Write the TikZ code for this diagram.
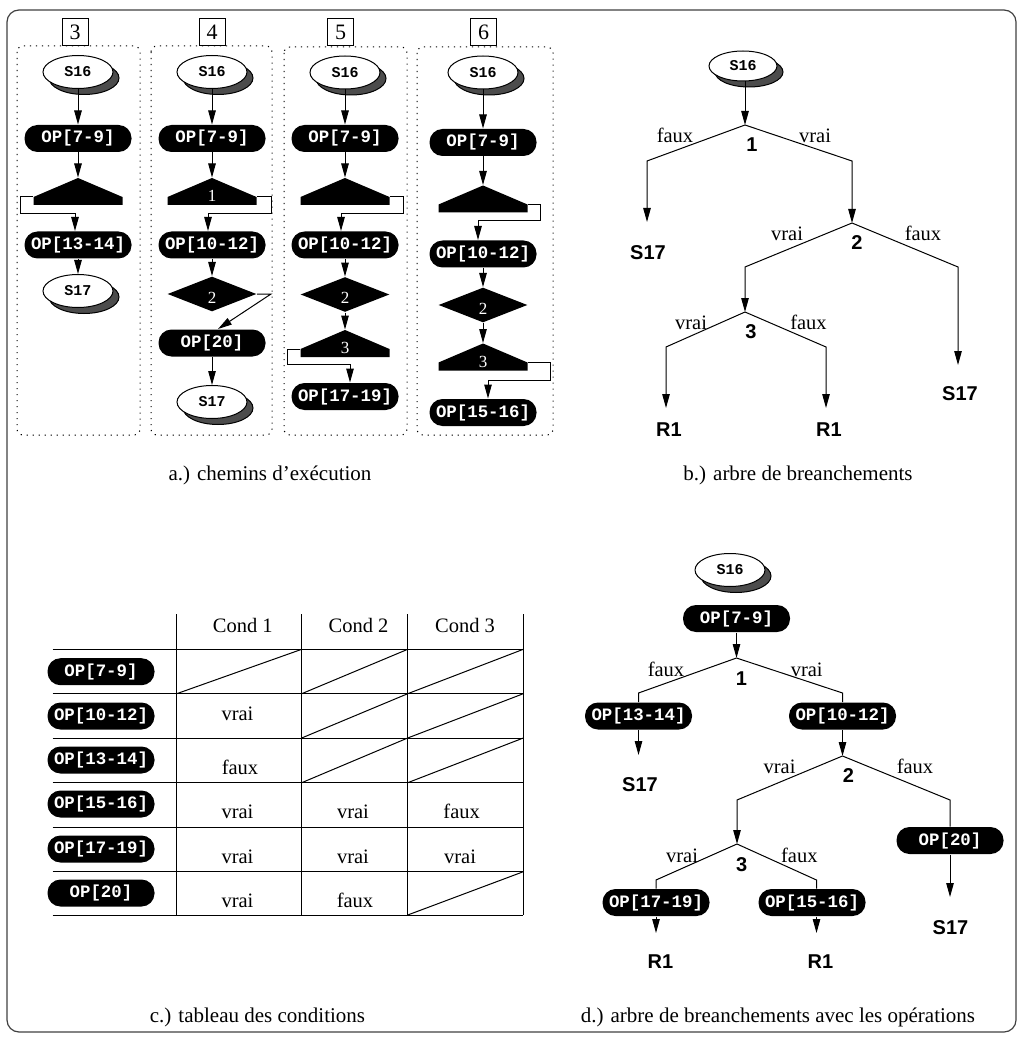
\documentclass[tikz,border=0pt]{standalone}
\usepackage{fontspec}
\setmainfont{Liberation Serif}
\setsansfont{Liberation Sans}
\setmonofont{Liberation Mono}
\usetikzlibrary{shapes.geometric, shadows, arrows.meta}

\begin{document}
\begin{tikzpicture}[x=1pt, y=-1pt, line width=1pt, >={Triangle[length=14pt,width=7.5pt]},
    etat/.style={ellipse, draw, fill=white, minimum width=70pt, minimum height=33pt, inner sep=0pt,
      font=\fontsize{15}{15}\ttfamily\bfseries,
      general shadow={shadow xshift=6pt, shadow yshift=-6pt, fill=black!70, draw=black}},
    op/.style={rectangle, rounded corners=13pt, fill=black, text=white, minimum width=107pt,
      minimum height=27pt, inner sep=0pt, font=\fontsize{17.4}{17.4}\ttfamily\bfseries},
    cond/.style={rectangle, fill=white, minimum width=89pt, minimum height=27pt, inner sep=0pt,
      text=white, text height=20pt, text depth=0pt, font=\fontsize{17}{17}\selectfont,
      path picture={\fill[black] (path picture bounding box.north)
        -- ([yshift=-19pt]path picture bounding box.north east) -- (path picture bounding box.south east)
        -- (path picture bounding box.south west) -- ([yshift=-19pt]path picture bounding box.north west) -- cycle;}},
    losange/.style={diamond, fill=black, text=white, aspect=2.5, minimum width=89pt, minimum height=35pt,
      inner sep=0pt, text height=18pt, text depth=0pt, font=\fontsize{17}{17}\selectfont},
    numero/.style={rectangle, draw, fill=white, minimum width=26pt, minimum height=27pt, inner sep=0pt,
      font=\fontsize{22}{22}\selectfont},
    colonne/.style={draw, dash pattern=on 1.2pt off 4.8pt, rounded corners=6pt},
    lab/.style={anchor=base, inner sep=0pt, font=\fontsize{20.5}{20.5}\selectfont},
    feuille/.style={anchor=base, inner sep=0pt, font=\fontsize{20}{20}\sffamily\bfseries},
    titre/.style={font=\fontsize{21}{21}\selectfont}]

    \useasboundingbox (0,0) rectangle (1024,1040);
    \draw[black!75, line width=1.2pt, rounded corners=12pt] (7,10) rectangle (1016,1032);

    % a.) chemins d'execution
    \draw[colonne] (17,46) rectangle (140,435);
    \draw[colonne] (151,46) rectangle (272,435);
    \draw[colonne] (284,47) rectangle (407,435);
    \draw[colonne] (417,47) rectangle (553,435);
    \node [numero] (n3) at (75 , 32) {3};
    \node [numero] (n4) at (212 , 32) {4};
    \node [numero] (n5) at (340.5 , 32) {5};
    \node [numero] (n6) at (483.5 , 32) {6};

    \node [etat] (s16a3) at (78 , 72) {S16};
    \node [op] (op79a3) at (78 , 138.5) {OP[7-9]};
    \node [cond] (c1a3) at (78 , 191.5) {};
    \node [op] (op1314a3) at (78 , 245) {OP[13-14]};
    \node [etat] (s17a3) at (78 , 291) {S17};

    \node [etat] (s16a4) at (212 , 72) {S16};
    \node [op] (op79a4) at (212 , 138.5) {OP[7-9]};
    \node [cond] (c1a4) at (212 , 191.5) {1};
    \node [op] (op1012a4) at (212 , 245) {OP[10-12]};
    \node [losange] (c2a4) at (212 , 294) {2};
    \node [op] (op20a4) at (212 , 343) {OP[20]};
    \node [etat] (s17a4) at (212 , 402) {S17};

    \node [etat] (s16a5) at (345 , 72.5) {S16};
    \node [op] (op79a5) at (345 , 138.5) {OP[7-9]};
    \node [cond] (c1a5) at (345 , 191.5) {};
    \node [op] (op1012a5) at (345 , 245) {OP[10-12]};
    \node [losange] (c2a5) at (345 , 294.5) {2};
    \node [cond] (c3a5) at (345 , 343.5) {3};
    \node [op] (op1719a5) at (345 , 396.5) {OP[17-19]};

    \node [etat] (s16a6) at (483 , 72.5) {S16};
    \node [op] (op79a6) at (483 , 142.5) {OP[7-9]};
    \node [cond] (c1a6) at (483 , 199) {};
    \node [op] (op1012a6) at (483 , 254) {OP[10-12]};
    \node [losange] (c2a6) at (483 , 305) {2};
    \node [cond] (c3a6) at (483 , 357) {3};
    \node [op] (op1516a6) at (483 , 412.5) {OP[15-16]};

    \path[->]
      (s16a3) edge (op79a3)
      (op79a3) edge (c1a3)
      (op1314a3) edge (s17a3)
      (s16a4) edge (op79a4)
      (op79a4) edge (c1a4)
      (op1012a4) edge (c2a4)
      (op20a4) edge (s17a4)
      (s16a5) edge (op79a5)
      (op79a5) edge (c1a5)
      (op1012a5) edge (c2a5)
      (c2a5) edge (c3a5)
      (s16a6) edge (op79a6)
      (op79a6) edge (c1a6)
      (op1012a6) edge (c2a6)
      (c2a6) edge (c3a6);
    \draw[->] ([yshift=-5.5pt]c1a3.west) -- ++(-13,0) -- ++(0,17) -| ([xshift=-3pt]op1314a3.north);
    \draw[->] ([yshift=-5.5pt]c1a4.east) -- ++(14,0) -- ++(0,17) -| ([xshift=-4pt]op1012a4.north);
    \draw[->] (c2a4.east) -- ++(14,0) -- ([xshift=6pt]op20a4.north);
    \draw[->] ([yshift=-5.5pt]c1a5.east) -- ++(13,0) -- ++(0,17) -| ([xshift=-4pt]op1012a5.north);
    \draw[->] ([yshift=-5.5pt]c3a5.west) -- ++(-13,0) -- ++(0,15) -| ([xshift=5pt]op1719a5.north);
    \draw[->] ([yshift=-5.5pt]c1a6.east) -- ++(12,0) -- ++(0,16) -| ([xshift=-5pt]op1012a6.north);
    \draw[->] ([yshift=-5.5pt]c3a6.east) -- ++(22,0) -- ++(0,17.5) -| ([xshift=5pt]op1516a6.north);

    \node [titre] (capa) at (270 , 475) {a.) chemins d’exécution};

    % b.) arbre de branchements
    \node [etat, minimum width=68pt, minimum height=30pt] (s16b) at (743 , 66) {S16};
    \coordinate (j1b) at (745 , 125);
    \coordinate (g1b) at (647 , 161);
    \coordinate (d1b) at (852 , 161);
    \coordinate (t1b) at (647 , 222);
    \coordinate (j2b) at (852 , 223);
    \coordinate (g2b) at (745 , 267);
    \coordinate (d2b) at (958 , 267);
    \coordinate (t2b) at (958 , 365);
    \coordinate (j3b) at (745 , 312);
    \coordinate (g3b) at (666 , 347);
    \coordinate (d3b) at (826 , 347);
    \coordinate (t3b) at (666 , 408);
    \coordinate (t4b) at (826 , 408);
    \draw[->] (s16b.south -| j1b) -- (j1b);
    \draw[->] (j1b) -- (g1b) -- (t1b);
    \draw[->] (j1b) -- (d1b) -- (j2b);
    \draw[->] (j2b) -- (g2b) -- (j3b);
    \draw[->] (j2b) -- (d2b) -- (t2b);
    \draw[->] (j3b) -- (g3b) -- (t3b);
    \draw[->] (j3b) -- (d3b) -- (t4b);
    \node [lab] (f1b) at (675 , 143) {faux};
    \node [feuille] (k1b) at (752 , 151.7) {1};
    \node [lab] (v1b) at (815 , 143) {vrai};
    \node [lab] (v2b) at (787 , 240.7) {vrai};
    \node [feuille] (k2b) at (857 , 250) {2};
    \node [lab] (f2b) at (923 , 240.7) {faux};
    \node [lab] (v3b) at (691 , 329) {vrai};
    \node [feuille] (k3b) at (751 , 338) {3};
    \node [lab] (f3b) at (808.5 , 329) {faux};
    \node [feuille] (s17gb) at (648 , 260) {S17};
    \node [feuille] (s17db) at (960 , 400.7) {S17};
    \node [feuille] (r1gb) at (669 , 436.7) {R1};
    \node [feuille] (r1db) at (829 , 436.7) {R1};

    \node [titre] (capb) at (798 , 475) {b.) arbre de breanchements};

    % c.) tableau des conditions
    \foreach \y in {649.3, 693.7, 738, 782.7, 827, 871.7, 915}
      \draw (52.7,\y) -- (523.3,\y);
    \foreach \x in {176.7, 301.7, 407.7, 523.3}
      \draw (\x,614) -- (\x,915);
    \foreach \xa/\xb/\ya/\yb in {176.7/301.7/649.3/693.7, 301.7/407.7/649.3/693.7, 407.7/523.3/649.3/693.7,
        301.7/407.7/693.7/738, 407.7/523.3/693.7/738, 301.7/407.7/738/782.7, 407.7/523.3/738/782.7,
        407.7/523.3/871.7/915}
      \draw (\xa,\yb) -- (\xb,\ya);
    \node [lab] (h1) at (242.8 , 632.7) {Cond 1};
    \node [lab] (h2) at (358.5 , 632.7) {Cond 2};
    \node [lab] (h3) at (465 , 632.7) {Cond 3};
    \node [op] (l1) at (101 , 671.7) {OP[7-9]};
    \node [op] (l2) at (101 , 716) {OP[10-12]};
    \node [op] (l3) at (101 , 760) {OP[13-14]};
    \node [op] (l4) at (101 , 804) {OP[15-16]};
    \node [op] (l5) at (101 , 849) {OP[17-19]};
    \node [op] (l6) at (101 , 893) {OP[20]};
    \node [lab] (e21) at (237.5 , 720) {vrai};
    \node [lab] (e31) at (240 , 774) {faux};
    \node [lab] (e41) at (237.5 , 818) {vrai};
    \node [lab] (e42) at (353 , 818) {vrai};
    \node [lab] (e43) at (461.7 , 818) {faux};
    \node [lab] (e51) at (237.5 , 863) {vrai};
    \node [lab] (e52) at (353 , 863) {vrai};
    \node [lab] (e53) at (460 , 863) {vrai};
    \node [lab] (e61) at (237.5 , 907) {vrai};
    \node [lab] (e62) at (355 , 907) {faux};

    \node [titre] (capc) at (257.5 , 1017) {c.) tableau des conditions};

    % d.) arbre avec les operations
    \node [etat] (s16d) at (730 , 570) {S16};
    \node [op] (op79d) at (736.5 , 618.5) {OP[7-9]};
    \coordinate (j1d) at (736.5 , 658);
    \coordinate (g1d) at (638.5 , 693);
    \coordinate (d1d) at (842.5 , 693);
    \node [op] (op1314d) at (638.5 , 716) {OP[13-14]};
    \node [op] (op1012d) at (842.5 , 716) {OP[10-12]};
    \coordinate (t1d) at (638.5 , 755);
    \coordinate (j2d) at (842.5 , 756);
    \coordinate (g2d) at (737 , 800);
    \coordinate (d2d) at (950 , 800);
    \coordinate (j3d) at (737 , 844);
    \node [op] (op20d) at (950 , 840.5) {OP[20]};
    \coordinate (t2d) at (950 , 897);
    \coordinate (g3d) at (656 , 880);
    \coordinate (d3d) at (816.5 , 880);
    \node [op] (op1719d) at (656 , 902.5) {OP[17-19]};
    \node [op] (op1516d) at (812 , 902.5) {OP[15-16]};
    \coordinate (t3d) at (656 , 933);
    \coordinate (t4d) at (816.5 , 933);
    \draw[->] (op79d) -- (j1d);
    \draw (j1d) -- (g1d) -- (op1314d);
    \draw (j1d) -- (d1d) -- (op1012d);
    \draw[->] (op1314d) -- (t1d);
    \draw[->] (op1012d) -- (j2d);
    \draw[->] (j2d) -- (g2d) -- (j3d);
    \draw (j2d) -- (d2d) -- (op20d);
    \draw[->] (op20d) -- (t2d);
    \draw (j3d) -- (g3d) -- (op1719d);
    \draw (j3d) -- (d3d) -- (d3d |- op1516d.north);
    \draw[->] (op1719d) -- (t3d);
    \draw[->] (d3d |- op1516d.south) -- (t4d);
    \node [lab] (f1d) at (666 , 676) {faux};
    \node [feuille] (k1d) at (741.5 , 685) {1};
    \node [lab] (v1d) at (806.7 , 676) {vrai};
    \node [lab] (v2d) at (779.5 , 773) {vrai};
    \node [feuille] (k2d) at (848.3 , 782.7) {2};
    \node [lab] (f2d) at (915 , 773) {faux};
    \node [lab] (v3d) at (682 , 862.7) {vrai};
    \node [feuille] (k3d) at (741.7 , 871.7) {3};
    \node [lab] (f3d) at (799.3 , 862.7) {faux};
    \node [feuille] (s17gd) at (640 , 791.7) {S17};
    \node [feuille] (s17dd) at (950.5 , 934) {S17};
    \node [feuille] (r1gd) at (660.5 , 968.3) {R1};
    \node [feuille] (r1dd) at (820.5 , 968.3) {R1};

    \node [titre] (capd) at (778 , 1017) {d.) arbre de breanchements avec les opérations};
\end{tikzpicture}
\end{document}
